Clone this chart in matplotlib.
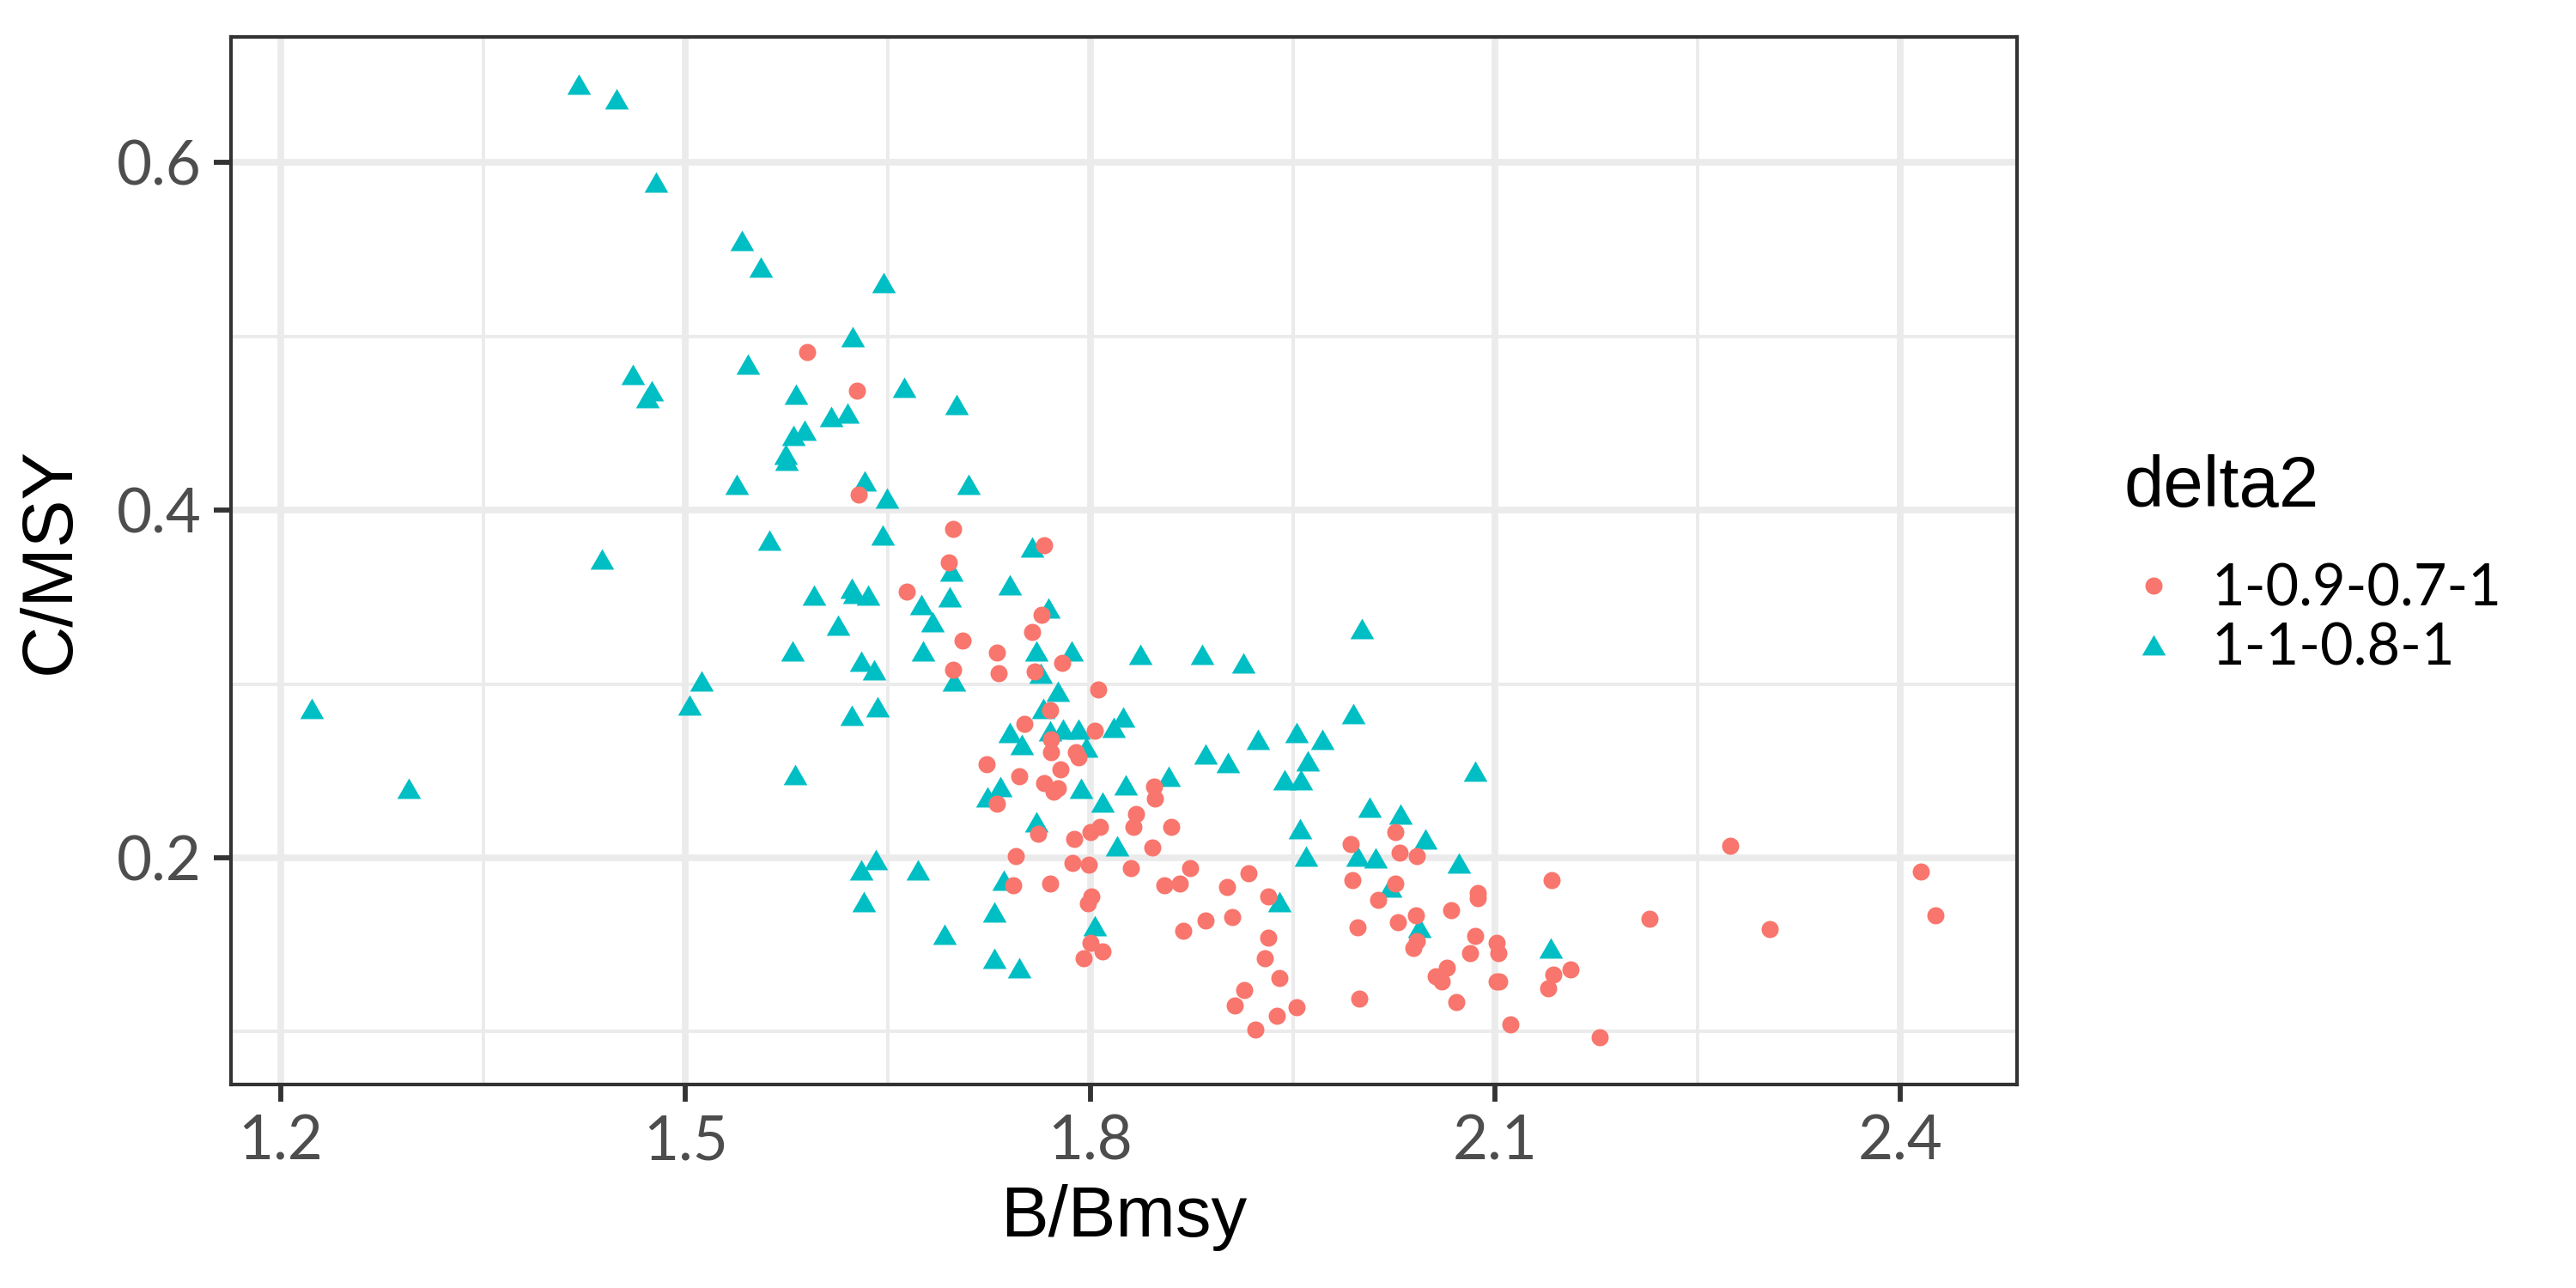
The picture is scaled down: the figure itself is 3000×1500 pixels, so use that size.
import matplotlib
matplotlib.use("Agg")
from matplotlib import pyplot as plt
from matplotlib.path import Path
from matplotlib.lines import Line2D
from matplotlib.ticker import MultipleLocator, FixedLocator

# group 1-0.9-0.7-1 (red circles)
red_x = [1.590, 1.627, 1.628, 1.698, 1.766, 1.695, 1.664, 1.764, 1.757, 1.705,
         1.731, 1.732, 1.698, 1.759, 1.779, 1.806, 1.770, 1.751, 1.803, 1.771,
         1.723, 1.747, 1.771, 1.789, 1.791, 1.778, 1.766, 1.776, 1.773, 1.731,
         1.761, 1.788, 1.800, 1.807, 1.834, 1.832, 1.847, 1.848, 1.860, 1.846,
         1.745, 1.787, 1.799, 1.830, 1.874, 1.855, 1.866, 1.901, 1.917, 1.743,
         1.770, 1.801, 1.798, 1.869, 1.885, 1.905, 1.800, 1.809, 1.795, 1.914,
         1.907, 1.922, 1.932, 1.932, 1.929, 1.940, 1.938, 1.953, 1.993, 1.994,
         2.026, 2.029, 2.042, 2.026, 2.013, 1.998, 2.028, 2.041, 2.042, 2.039,
         2.067, 2.087, 2.087, 2.085, 2.081, 2.064, 2.056, 2.060, 2.071, 1.999,
         2.101, 2.102, 2.101, 2.103, 2.111, 2.142, 2.143, 2.139, 2.156, 2.177,
         2.214, 2.274, 2.303, 2.415, 2.426]
red_y = [0.491, 0.469, 0.409, 0.389, 0.380, 0.370, 0.353, 0.340, 0.330, 0.325,
         0.318, 0.306, 0.308, 0.307, 0.312, 0.297, 0.285, 0.277, 0.273, 0.268,
         0.254, 0.247, 0.261, 0.261, 0.258, 0.251, 0.243, 0.240, 0.238, 0.231,
         0.214, 0.211, 0.215, 0.218, 0.225, 0.218, 0.241, 0.234, 0.218, 0.206,
         0.201, 0.197, 0.196, 0.194, 0.194, 0.184, 0.185, 0.183, 0.191, 0.184,
         0.185, 0.178, 0.174, 0.158, 0.164, 0.166, 0.151, 0.146, 0.142, 0.124,
         0.115, 0.101, 0.178, 0.154, 0.142, 0.131, 0.109, 0.114, 0.208, 0.187,
         0.215, 0.203, 0.201, 0.185, 0.176, 0.160, 0.163, 0.167, 0.152, 0.148,
         0.170, 0.180, 0.177, 0.155, 0.145, 0.137, 0.132, 0.129, 0.117, 0.119,
         0.151, 0.145, 0.129, 0.129, 0.104, 0.187, 0.133, 0.125, 0.136, 0.097,
         0.165, 0.207, 0.159, 0.192, 0.167]

# group 1-1-0.8-1 (teal triangles)
teal_x = [1.421, 1.449, 1.478, 1.542, 1.556, 1.647, 1.624, 1.546, 1.461, 1.475,
          1.472, 1.582, 1.662, 1.701, 1.608, 1.620, 1.588, 1.580, 1.574, 1.575,
          1.538, 1.633, 1.710, 1.649, 1.562, 1.438, 1.646, 1.757, 1.697, 1.595,
          1.623, 1.625, 1.635, 1.740, 1.696, 1.675, 1.683, 1.769, 1.613, 2.001,
          1.579, 1.676, 1.760, 1.786, 1.837, 1.883, 1.913, 1.630, 1.640, 1.763,
          1.512, 1.699, 1.776, 1.503, 1.642, 1.223, 1.765, 1.623, 1.995, 1.824,
          1.817, 1.740, 1.770, 1.780, 1.791, 1.953, 1.972, 1.924, 1.749, 1.797,
          1.885, 1.902, 1.961, 2.085, 1.581, 1.858, 1.944, 1.956, 1.295, 1.826,
          1.793, 1.733, 1.724, 1.809, 2.007, 2.030, 1.760, 1.955, 2.048, 1.820,
          1.960, 1.998, 2.011, 1.641, 2.073, 1.630, 1.672, 1.736, 2.022, 1.940,
          1.632, 1.729, 1.803, 2.044, 1.692, 2.141, 1.729, 1.747]
teal_y = [0.645, 0.637, 0.589, 0.555, 0.540, 0.531, 0.500, 0.484, 0.478, 0.469,
          0.465, 0.467, 0.471, 0.461, 0.454, 0.456, 0.446, 0.443, 0.432, 0.429,
          0.415, 0.417, 0.415, 0.407, 0.383, 0.372, 0.386, 0.379, 0.365, 0.351,
          0.355, 0.352, 0.351, 0.357, 0.350, 0.346, 0.336, 0.344, 0.334, 0.332,
          0.319, 0.319, 0.319, 0.319, 0.317, 0.317, 0.312, 0.313, 0.308, 0.306,
          0.302, 0.302, 0.296, 0.288, 0.287, 0.286, 0.286, 0.282, 0.283, 0.281,
          0.275, 0.272, 0.273, 0.274, 0.274, 0.272, 0.268, 0.268, 0.265, 0.264,
          0.260, 0.255, 0.256, 0.250, 0.248, 0.247, 0.245, 0.245, 0.240, 0.242,
          0.240, 0.241, 0.235, 0.232, 0.229, 0.225, 0.221, 0.217, 0.211, 0.207,
          0.201, 0.201, 0.200, 0.199, 0.197, 0.193, 0.193, 0.187, 0.183, 0.175,
          0.175, 0.169, 0.161, 0.160, 0.156, 0.148, 0.142, 0.137]

group_labels = ["1-0.9-0.7-1", "1-1-0.8-1"]
x_ticks = [1.2, 1.5, 1.8, 2.1, 2.4]
y_ticks = [0.2, 0.4, 0.6]

RED = "#F8766D"
TEAL = "#00BFC4"
GRID = "#EBEBEB"

# flatter triangle like R's pch 17
tri = Path([(0, 0.866), (-1, -0.866), (1, -0.866), (0, 0.866)],
           [Path.MOVETO, Path.LINETO, Path.LINETO, Path.CLOSEPOLY])

fig = plt.figure(figsize=(10, 5), dpi=300)
ax = fig.add_axes([0.0897, 0.158, 0.6933, 0.8133])

ax.scatter(teal_x, teal_y, s=44, marker=tri, color=TEAL, linewidths=0, zorder=3)
ax.scatter(red_x, red_y, s=23, marker="o", color=RED, linewidths=0, zorder=3)

ax.set_xlim(1.1633, 2.4865)
ax.set_ylim(0.0696, 0.6723)

ax.xaxis.set_major_locator(FixedLocator(x_ticks))
ax.xaxis.set_minor_locator(MultipleLocator(0.15))
ax.yaxis.set_major_locator(FixedLocator(y_ticks))
ax.yaxis.set_minor_locator(MultipleLocator(0.1))
ax.set_xticklabels([f"{v:.1f}" for v in x_ticks])
ax.set_yticklabels([f"{v:.1f}" for v in y_ticks])

ax.grid(which="major", color=GRID, linewidth=1.85, zorder=0)
ax.grid(which="minor", color=GRID, linewidth=0.95, zorder=0)
ax.set_axisbelow(True)

for sp in ax.spines.values():
    sp.set_color("#333333")
    sp.set_linewidth(1.0)
    sp.set_zorder(4)

ax.tick_params(which="major", length=4.8, width=1.4, color="#333333",
               labelcolor="#4D4D4D", labelsize=17, pad=3.5)
ax.tick_params(which="minor", length=0)
for lab in ax.get_xticklabels() + ax.get_yticklabels():
    lab.set_family("Lato")

ax.set_xlabel("B/Bmsy", fontsize=20, family="Liberation Sans", labelpad=4)
ax.set_ylabel("C/MSY", fontsize=20, family="Liberation Sans", labelpad=9)

# legend: title as its own text, keys below it
fig.text(0.8245, 0.6067, "delta2", fontsize=20, family="Liberation Sans",
         ha="left", va="baseline")
handles = [
    Line2D([], [], linestyle="none", marker="o", markersize=4.8,
           markerfacecolor=RED, markeredgewidth=0),
    Line2D([], [], linestyle="none", marker=tri, markersize=6.6,
           markerfacecolor=TEAL, markeredgewidth=0),
]
leg = fig.legend(handles, group_labels, loc="upper left",
                 bbox_to_anchor=(0.8228, 0.563), frameon=False,
                 prop={"family": "Lato", "size": 16},
                 labelspacing=0.1, handlelength=1.2, handletextpad=0.4,
                 borderpad=0, borderaxespad=0)

fig.savefig("out.png", dpi=300, facecolor="white")
